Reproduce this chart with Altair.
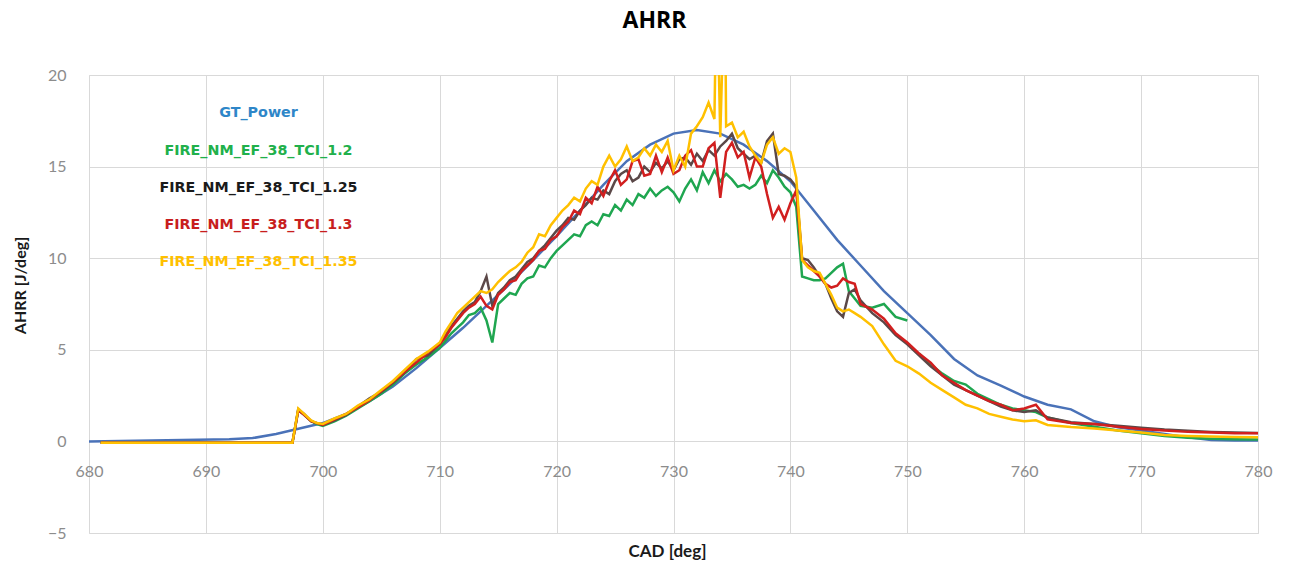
import altair as alt
import numpy as np
import pandas as pd

TITLE = "AHRR"
X_TITLE = "CAD [deg]"
Y_TITLE = "AHRR [J/deg]"
X_TICKS = [680, 690, 700, 710, 720, 730, 740, 750, 760, 770, 780]
Y_TICKS = [-5, 0, 5, 10, 15, 20]

SERIES = ["GT_Power", "FIRE_NM_EF_38_TCI_1.2", "FIRE_NM_EF_38_TCI_1.25",
          "FIRE_NM_EF_38_TCI_1.3", "FIRE_NM_EF_38_TCI_1.35"]
LINE_COLORS = ["#4A72B8", "#1FA650", "#5B4848", "#D11F1F", "#FFC000"]
LABEL_COLORS = ["#2E86C8", "#21B04B", "#1A1A1A", "#C81E1E", "#FFC000"]

# GT_Power (smooth)
GT_CAD = [680, 684, 688, 692, 694, 696, 698, 700, 702, 704, 706, 708, 710, 712, 714,
          716, 718, 720, 722, 724, 726, 728, 730, 732, 734, 736, 738, 740, 742, 744,
          746, 748, 750, 752, 754, 756, 758, 760, 762, 764, 766, 768, 770, 772, 774,
          776, 778, 780]
GT_AHRR = [0.0, 0.03, 0.07, 0.12, 0.18, 0.4, 0.7, 1.0, 1.5, 2.2, 3.0, 4.0, 5.1, 6.2, 7.4,
           8.6, 9.9, 11.2, 12.6, 14.0, 15.3, 16.2, 16.8, 17.0, 16.8, 16.2, 15.3, 14.2, 12.6, 11.0,
           9.6, 8.2, 7.0, 5.8, 4.5, 3.6, 3.05, 2.45, 2.0, 1.75, 1.1, 0.77, 0.6, 0.4, 0.22,
           0.08, 0.05, 0.05]

# FIRE simulations: common crank-angle grid
FIRE_CAD = ([681, 684, 688, 692, 695, 697, 697.4, 697.9, 698.4, 699, 699.5]
            + [700, 701, 702, 703, 704, 705, 706, 707, 708, 709]
            + list(np.arange(710, 741.01, 0.5))
            + [741.5, 742, 742.5, 743, 743.5, 744, 744.5, 745, 745.5, 746]
            + [747, 748, 749, 750, 751, 752, 753, 754, 755, 756, 757, 758, 759, 760, 761]
            + [762, 764, 766, 768, 770, 772, 774, 776, 778, 780])

TCI_12 = ([-0.08, -0.08, -0.08, -0.08, -0.08, -0.08, -0.08, 1.7, 1.45, 1.1, 0.95]
          + [0.85, 1.1, 1.4, 1.8, 2.2, 2.6, 3.1, 3.7, 4.2, 4.6]
          + [5.1, 5.5, 5.9, 6.2, 6.5, 6.9, 7.0, 7.3, 6.6, 5.4,
             7.5, 7.8, 8.1, 8.0, 8.6, 8.9, 9.0, 9.6, 9.5, 10.0,
             10.4, 10.7, 11.0, 11.3, 11.2, 11.8, 12.0, 11.8, 12.4, 12.3,
             12.9, 12.6, 13.2, 12.9, 13.5, 13.3, 13.8, 13.4, 13.7, 13.9,
             13.6, 13.1, 13.8, 14.3, 13.7, 14.7, 14.1, 14.8, 14.2, 14.6,
             14.3, 13.9, 14.0, 13.8, 14.0, 14.5, 14.1, 14.8, 14.4, 13.9,
             13.6, 12.8, 9.0]
          + [8.9, 8.8, 8.8, 8.9, 9.2, 9.5, 9.7, 8.2, 7.8, 7.4]
          + [7.3, 7.5, 6.8, 6.6, 4.8, 4.2, 3.7, 3.3, 3.1, 2.6, 2.3, 2.0, 1.8, 1.7, 1.6]
          + [1.3, 1.0, 0.8, 0.6, 0.45, 0.3, 0.2, 0.15, 0.12, 0.1])

TCI_125 = ([-0.08, -0.08, -0.08, -0.08, -0.08, -0.08, -0.08, 1.75, 1.5, 1.1, 1.0]
           + [0.9, 1.15, 1.45, 1.9, 2.35, 2.7, 3.2, 3.75, 4.5, 4.7]
           + [5.3, 5.8, 6.3, 6.7, 7.1, 7.4, 7.6, 8.2, 9.0, 7.4,
              8.1, 8.4, 8.8, 9.0, 9.4, 9.8, 10.0, 10.4, 10.7, 11.1,
              11.5, 11.8, 12.2, 12.1, 12.6, 12.9, 13.3, 13.2, 13.7, 13.5,
              14.2, 14.6, 14.8, 14.2, 14.4, 15.0, 14.7, 15.2, 14.9, 15.3,
              14.8, 15.4, 15.5, 15.1, 15.7, 15.3, 15.9, 15.6, 16.1, 16.4,
              16.8, 16.0, 15.7, 15.4, 15.6, 15.2, 16.4, 16.8, 14.6, 14.5,
              14.3, 13.9, 10.0]
           + [9.9, 9.5, 9.0, 8.6, 7.8, 7.1, 6.8, 8.1, 8.3, 7.7]
           + [7.0, 6.5, 5.8, 5.3, 4.7, 4.1, 3.6, 3.1, 2.8, 2.5, 2.2, 1.9, 1.7, 1.6, 1.7]
           + [1.3, 1.05, 0.95, 0.85, 0.75, 0.65, 0.58, 0.52, 0.48, 0.46])

TCI_13 = ([-0.08, -0.08, -0.08, -0.08, -0.08, -0.08, -0.08, 1.7, 1.45, 1.1, 1.0]
          + [0.9, 1.2, 1.5, 1.85, 2.25, 2.75, 3.25, 3.8, 4.3, 4.85]
          + [5.3, 5.7, 6.2, 6.6, 7.0, 7.3, 7.5, 7.9, 7.4, 7.2,
             8.0, 8.3, 8.7, 8.8, 9.3, 9.6, 9.9, 10.4, 10.5, 11.0,
             11.2, 11.7, 12.0, 12.6, 12.4, 13.3, 13.0, 13.9, 13.4, 14.2,
             14.8, 14.0, 14.3, 15.3, 15.4, 14.5, 14.6, 15.6, 14.7, 15.5,
             14.6, 14.8, 15.6, 15.9, 15.0, 15.0, 16.0, 16.3, 13.3, 15.8,
             16.3, 15.5, 15.8, 14.4, 15.5, 15.0, 13.5, 12.2, 12.8, 12.1,
             13.0, 13.7, 9.9]
          + [9.6, 9.3, 9.0, 8.6, 8.4, 8.5, 8.9, 8.7, 8.6, 7.5]
          + [7.2, 6.7, 5.9, 5.4, 4.8, 4.3, 3.6, 3.2, 2.8, 2.5, 2.2, 2.0, 1.7, 1.8, 2.0]
          + [1.2, 1.0, 0.95, 0.8, 0.68, 0.6, 0.52, 0.48, 0.45, 0.44])

TCI_135 = ([-0.08, -0.08, -0.08, -0.08, -0.08, -0.08, -0.08, 1.8, 1.5, 1.15, 1.0]
           + [0.95, 1.25, 1.5, 1.95, 2.3, 2.8, 3.3, 3.9, 4.5, 4.9]
           + [5.4, 6.0, 6.5, 7.0, 7.3, 7.6, 7.9, 8.2, 8.1, 8.3,
              8.7, 9.0, 9.3, 9.5, 9.8, 10.3, 10.6, 11.3, 11.2, 11.8,
              12.2, 12.6, 12.9, 13.3, 13.1, 13.8, 14.2, 14.0, 15.0, 15.6,
              15.0, 15.4, 16.1, 15.3, 15.5, 16.0, 15.6, 16.2, 15.8, 16.4,
              14.8, 15.6, 15.0, 16.8, 17.2, 17.7, 18.5, 17.6, 16.6, 17.2,
              17.4, 16.6, 16.9, 16.1, 15.6, 15.2, 16.2, 16.6, 15.7, 16.0,
              15.8, 14.4, 9.9]
           + [9.5, 9.3, 9.2, 8.6, 8.0, 7.3, 7.1, 7.2, 7.0, 6.8]
           + [6.3, 5.3, 4.4, 4.1, 3.7, 3.2, 2.8, 2.4, 2.0, 1.8, 1.5, 1.35, 1.2, 1.1, 1.15]
           + [0.9, 0.78, 0.7, 0.6, 0.48, 0.35, 0.3, 0.27, 0.24, 0.22])
# two narrow spikes of the 1.35 case, clipped at the top of the plot
SPIKE_CAD = [733.7, 734.4]
SPIKE_AHRR = [26.0, 26.0]

# ---------------------------------------------------------------- build tables
series_data = [
    (SERIES[0], GT_CAD, GT_AHRR),
    (SERIES[1], FIRE_CAD, TCI_12),
    (SERIES[2], FIRE_CAD, TCI_125),
    (SERIES[3], FIRE_CAD, TCI_13),
    (SERIES[4], FIRE_CAD + SPIKE_CAD, TCI_135 + SPIKE_AHRR),
]

x_enc = alt.X(
    "cad:Q",
    sort=None,
    scale=alt.Scale(domain=[680, 780], nice=False, zero=False),
    axis=alt.Axis(
        values=X_TICKS, grid=True, gridColor="#d9d9d9", gridWidth=1,
        domain=False, ticks=False, tickSize=0, labelFlush=False,
        labelFont="Lato", labelFontSize=16, labelColor="#8c8c8c",
        labelPadding=30, labelBaseline="middle", offset=-91.6,
        title=X_TITLE, titleFont="Lato", titleFontSize=17, titleFontWeight="bold",
        titleColor="#1a1a1a", titleX=578, titleY=110, titleBaseline="middle",
        titleAlign="center",
    ),
)
y_enc = alt.Y(
    "ahrr:Q",
    scale=alt.Scale(domain=[-5, 20], nice=False, zero=False),
    axis=alt.Axis(
        values=Y_TICKS, grid=True, gridColor="#d9d9d9", gridWidth=1,
        domain=False, ticks=False, tickSize=0,
        labelFont="Lato", labelFontSize=16, labelColor="#8c8c8c", labelPadding=23,
        title=Y_TITLE, titleFont="Lato", titleFontSize=16, titleFontWeight="bold",
        titleColor="#1a1a1a", titleX=-69, titleY=210, titleAlign="center",
        titleBaseline="middle", titleAngle=270,
    ),
)

layers = []
for (name, cads, vals), col in zip(series_data, LINE_COLORS):
    assert len(cads) == len(vals), name
    df = pd.DataFrame({"cad": cads, "ahrr": vals}).sort_values("cad")
    # green series has a gap after 750 deg in the reference
    if name == SERIES[1]:
        df["seg"] = np.where(df["cad"] > 750, 2, 1)
    else:
        df["seg"] = 1
    layers.append(
        alt.Chart(df).mark_line(color=col, strokeWidth=2.5, clip=True).encode(
            x=x_enc, y=y_enc, detail="seg:N", order="cad:Q"
        )
    )

# text legend inside plot (top-left), position is a layout choice
leg_x = 694.5
leg_top = 17.9
leg_step = 2.03
legend_df = pd.DataFrame({
    "label": SERIES,
    "color": LABEL_COLORS,
    "cad": [leg_x] * len(SERIES),
    "ahrr": [leg_top - i * leg_step for i in range(len(SERIES))],
})
legend = alt.Chart(legend_df).mark_text(
    font="DejaVu Sans", fontSize=14.3, fontWeight="bold", align="center", baseline="middle"
).encode(
    x=x_enc, y=y_enc, text="label:N", color=alt.Color("color:N", scale=None)
)

chart = alt.layer(*layers, legend).properties(
    width=1169,
    height=458,
    title=alt.TitleParams(
        TITLE, font="Open Sans", fontSize=23, fontWeight="bold", color="#000000",
        anchor="middle", offset=34, dx=-19,
    ),
    autosize=alt.AutoSizeParams(type="none"),
    padding={"left": 89, "top": 75, "right": 35, "bottom": 39},
).configure_view(stroke=None).configure(background="white")

chart.save("out.html", embed_options={"renderer": "svg", "actions": False})
